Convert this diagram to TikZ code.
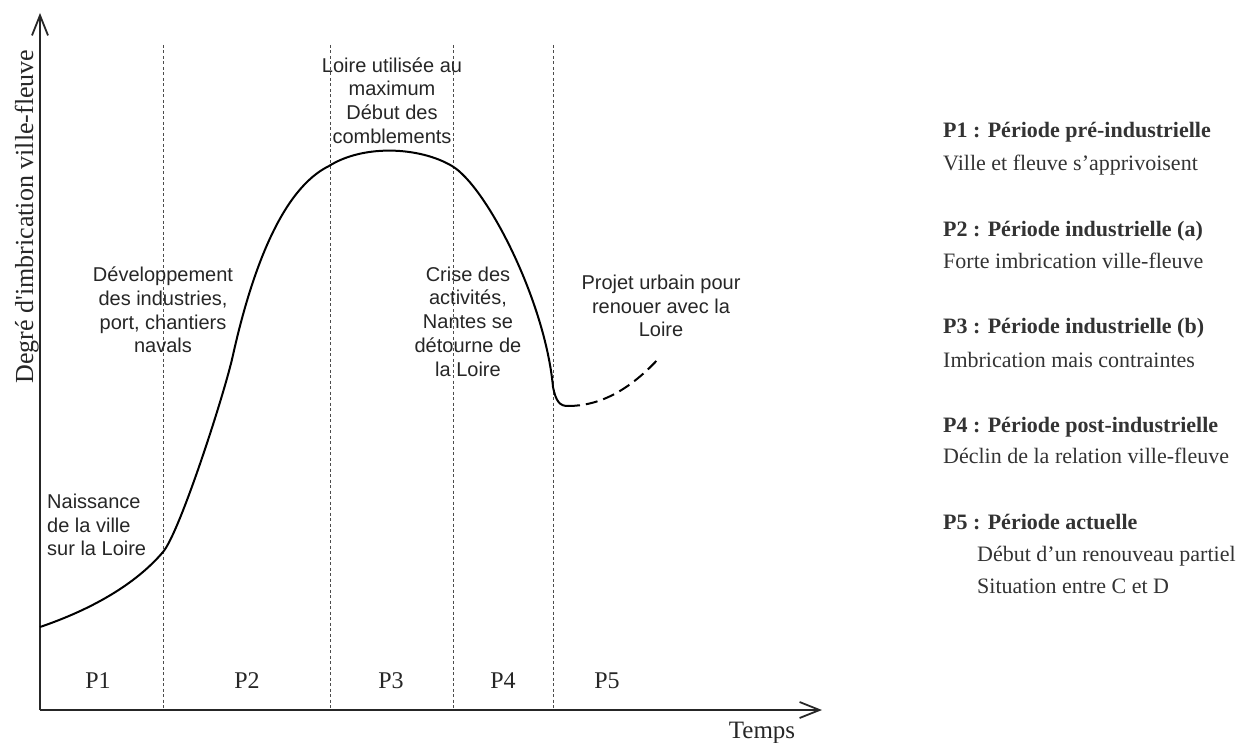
\documentclass[tikz,border=0pt]{standalone}
\usepackage{fontspec}
\setmainfont{Liberation Serif}[Ligatures=TeXOff]
\newfontfamily\labelsans{Liberation Sans}
\usetikzlibrary{arrows.meta}
\begin{document}
\begin{tikzpicture}[x=1pt,y=-1pt,
  axisline/.style={line width=1.8pt, draw=black!85, -{Straight Barb[length=20pt,width=16pt]}},
  periodline/.style={draw=black!70, line width=1pt, dash pattern=on 3pt off 2.5pt},
  curveline/.style={draw=black, line width=2pt, line join=round},
  note/.style={font=\labelsans\fontsize{20}{23.7}\selectfont, align=center, inner sep=0pt, text=black!85},
  plabel/.style={font=\fontsize{24}{28}\selectfont, anchor=base, inner sep=0pt, text=black!85},
  leghead/.style={font=\bfseries\fontsize{22}{26}\selectfont, anchor=base west, inner sep=0pt, text=black!80},
  legtext/.style={font=\fontsize{22}{26}\selectfont, anchor=base west, inner sep=0pt, text=black!80}
]
\useasboundingbox (0,0) rectangle (1250,743);

% axes
\coordinate (origin) at (40,710);
\coordinate (ytip) at (40,13);
\coordinate (xtip) at (822,710);
\draw[axisline] (origin) -- (ytip);
\draw[axisline] (origin) -- (xtip);

% period separators
\foreach \px/\nm in {163/a,330/b,453/c,553/d}{
  \coordinate (top\nm) at (\px,45);
  \coordinate (bot\nm) at (\px,710);
  \draw[periodline] (top\nm) -- (bot\nm);
}

% curve
\coordinate (c0) at (40,627);
\coordinate (c1) at (163,552);
\coordinate (c2) at (233,355);
\coordinate (c3) at (329,166);
\coordinate (c4) at (452,166);
\coordinate (c5) at (553,387);
\coordinate (c6) at (568,406);
\coordinate (c7) at (660,357);
\draw[curveline] (c0) .. controls (90,610) and (135,585) .. (c1)
  .. controls (180,532) and (225,392) .. (c2)
  .. controls (252,270) and (282,189) .. (c3)
  .. controls (364,144) and (420,147) .. (c4)
  .. controls (486,186) and (545,300) .. (c5)
  .. controls (556,402) and (560,406) .. (c6);
\draw[curveline, dash pattern=on 12pt off 6pt] (c6) .. controls (600,406) and (630,390) .. (c7);

% axis labels
\node[font=\fontsize{26}{30}\selectfont, rotate=90, anchor=base, inner sep=0pt, text=black!85] (ylab) at (33,216.5) {Degré d'imbrication ville-fleuve};
\node[font=\fontsize{25}{30}\selectfont, anchor=base, inner sep=0pt, text=black!85] (xlab) at (762,738) {Temps};

% period labels
\node[plabel] (p1) at (98,688) {P1};
\node[plabel] (p2) at (247,688) {P2};
\node[plabel] (p3) at (391,688) {P3};
\node[plabel] (p4) at (503,688) {P4};
\node[plabel] (p5) at (607,688) {P5};

% notes
\node[note] (loire) at (392,100.5) {Loire utilisée au\\maximum\\Début des\\comblements};
\node[note] (dev) at (163,310) {Développement\\des industries,\\port, chantiers\\navals};
\node[note] (crise) at (468,321.5) {Crise des\\activités,\\Nantes se\\détourne de\\la Loire};
\node[note] (projet) at (661,306) {Projet urbain pour\\renouer avec la\\Loire};
\node[note, align=left, anchor=west] (naiss) at (47,525) {Naissance\\de la ville\\sur la Loire};

% legend
\node[leghead] (l1) at (943,138) {P1 : Période pré-industrielle};
\node[legtext] (t1) at (943,171) {Ville et fleuve s’apprivoisent};
\node[leghead] (l2) at (943,237) {P2 : Période industrielle (a)};
\node[legtext] (t2) at (943,269) {Forte imbrication ville-fleuve};
\node[leghead] (l3) at (943,334) {P3 : Période industrielle (b)};
\node[legtext] (t3) at (943,367) {Imbrication mais contraintes};
\node[leghead] (l4) at (943,432) {P4 : Période post-industrielle};
\node[legtext] (t4) at (943,463) {Déclin de la relation ville-fleuve};
\node[leghead] (l5) at (943,529) {P5 : Période actuelle};
\node[legtext] (t5a) at (977,561) {Début d’un renouveau partiel};
\node[legtext] (t5b) at (977,593) {Situation entre C et D};
\end{tikzpicture}
\end{document}
